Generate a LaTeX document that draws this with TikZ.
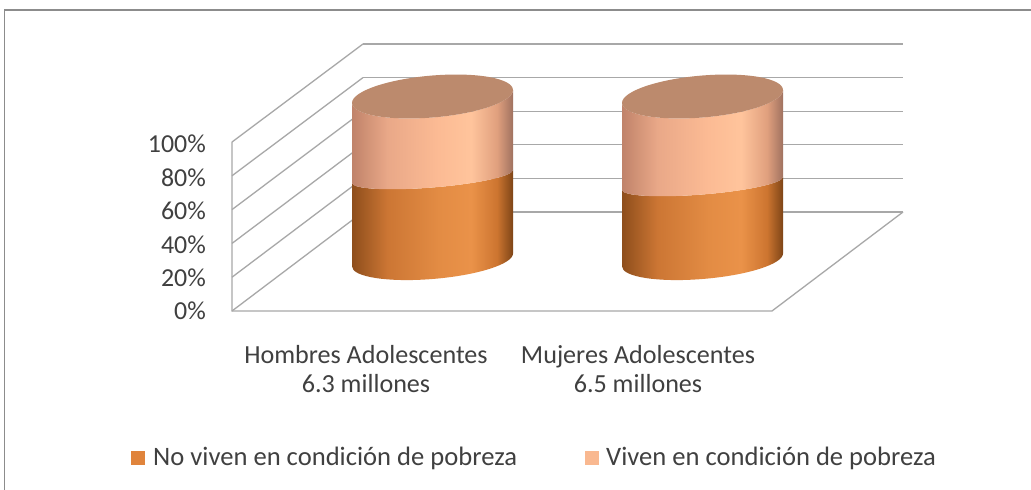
\documentclass[tikz,border=0pt]{standalone}
\usepackage{fontspec}
\setmainfont{Carlito}
\definecolor{gridc}{HTML}{A8A8A8}
\definecolor{framec}{HTML}{8C8C8C}
\definecolor{txt}{HTML}{404040}
\definecolor{b0}{HTML}{8E4E1C}
\definecolor{b1}{HTML}{CC7634}
\definecolor{b2}{HTML}{E38C44}
\definecolor{b3}{HTML}{EA9249}
\definecolor{b4}{HTML}{CD7530}
\definecolor{b5}{HTML}{7E4517}
\definecolor{t0}{HTML}{C0836A}
\definecolor{t1}{HTML}{E9A888}
\definecolor{t2}{HTML}{FCBB94}
\definecolor{t3}{HTML}{FFC49C}
\definecolor{t4}{HTML}{E0A07E}
\definecolor{t5}{HTML}{A07260}
\definecolor{topc}{HTML}{BC8A6D}
\definecolor{legdark}{HTML}{E0843C}
\definecolor{leglight}{HTML}{F9B890}
\pgfdeclarehorizontalshading{botsh}{100bp}{color(0bp)=(b0); color(25bp)=(b0); color(36bp)=(b1); color(52bp)=(b2); color(62bp)=(b3); color(70bp)=(b4); color(75bp)=(b5); color(100bp)=(b5)}
\pgfdeclarehorizontalshading{topsh}{100bp}{color(0bp)=(t0); color(25bp)=(t0); color(36bp)=(t1); color(52bp)=(t2); color(62bp)=(t3); color(70bp)=(t4); color(75bp)=(t5); color(100bp)=(t5)}
\tikzset{
  grid/.style={draw=gridc, line width=1.3bp},
  ticklab/.style={anchor=base east, text=txt, font=\fontsize{26}{30}\selectfont, inner sep=0pt},
  catlab/.style={anchor=base, text=txt, font=\fontsize{26.2}{30}\selectfont, inner sep=0pt},
  leglab/.style={anchor=base west, text=txt, font=\fontsize{26.7}{30}\selectfont, inner sep=0pt},
}
% cx, ytop, ymid, ybot
\newcommand{\drawcyl}[4]{%
\begin{scope}[shift={(#1,0)}, yslant=0.08]
  \shade[shading=botsh] (-80.5,#3) -- (-80.5,#4) arc[start angle=180,end angle=0,x radius=80.5,y radius=19] -- (80.5,#3) arc[start angle=0,end angle=180,x radius=80.5,y radius=11] -- cycle;
  \shade[shading=topsh] (-80.5,#2) -- (-80.5,#3) arc[start angle=180,end angle=0,x radius=80.5,y radius=11] -- (80.5,#2) arc[start angle=0,end angle=180,x radius=80.5,y radius=21] -- cycle;
  \fill[topc] (0,#2) ellipse[x radius=80.5, y radius=21];
\end{scope}}
\begin{document}
\begin{tikzpicture}[x=1bp,y=-1bp]
\useasboundingbox (0,0) rectangle (1031,490);
\fill[white] (0,0) rectangle (1031,490);
% outer frame
\draw[framec, line width=1.5bp] (4.5,495) -- (4.5,10) -- (1035,10);
% back wall and left wall grid
\foreach \k in {0,...,5} {
  \draw[grid] (363,{212-33.6*\k}) -- (903,{212-33.6*\k});
  \draw[grid] (232,{311-33.8*\k}) -- (363,{212-33.6*\k});
}
\draw[grid] (232,142) -- (232,311) -- (772,311) -- (903,212);
% cylinders
\drawcyl{432.5}{96.5}{176.5}{260}
\drawcyl{702.5}{96.5}{183.5}{260}
% tick labels
\node[ticklab] (l100) at (206,153) {100\%};
\node[ticklab] (l80) at (206,187) {80\%};
\node[ticklab] (l60) at (206,220) {60\%};
\node[ticklab] (l40) at (206,254) {40\%};
\node[ticklab] (l20) at (206,287) {20\%};
\node[ticklab] (l0) at (206,320) {0\%};
% category labels
\node[catlab] (c1a) at (366,364) {Hombres Adolescentes};
\node[catlab] (c1b) at (366,392) {6.3 millones};
\node[catlab] (c2a) at (638,364) {Mujeres Adolescentes};
\node[catlab] (c2b) at (638,392) {6.5 millones};
% legend
\fill[legdark] (131,451) rectangle (145,465);
\node[leglab] (g1) at (153,465) {No viven en condición de pobreza};
\fill[leglight] (585,451) rectangle (599,465);
\node[leglab] (g2) at (606,465) {Viven en condición de pobreza};
\end{tikzpicture}
\end{document}
